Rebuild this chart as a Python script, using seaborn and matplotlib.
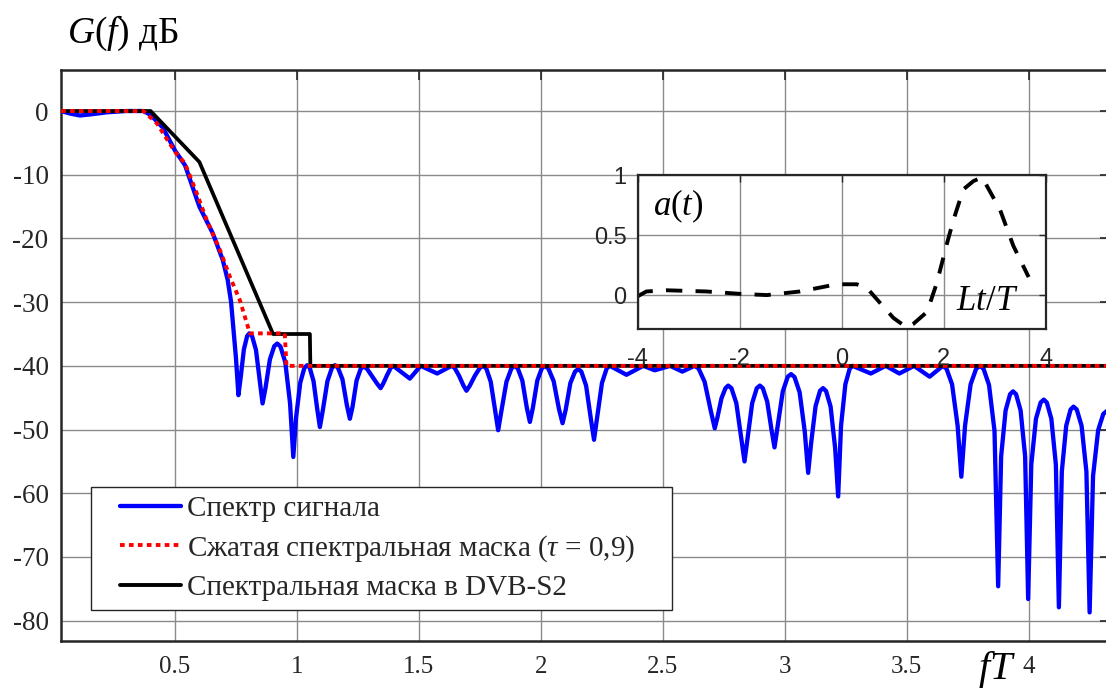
import matplotlib
matplotlib.use("Agg")
import matplotlib.pyplot as plt
from matplotlib.lines import Line2D
from matplotlib.legend_handler import HandlerLine2D
import seaborn as sns
import pandas as pd

# ---------------- data ----------------
spec_f = [
    0.033, 0.07, 0.11, 0.16, 0.22, 0.30, 0.37, 0.40, 0.45, 0.50, 0.541, 0.60, 0.655, 0.696, 0.716, 0.730, 0.739, 0.750,
    0.760, 0.769, 0.7825, 0.796,
    0.805, 0.8158, 0.832, 0.8482,
    0.859, 0.871, 0.889, 0.907,
    0.919, 0.9322, 0.952, 0.9718,
    0.985, 0.9964, 1.0135, 1.0306,
    1.042, 1.0524, 1.068, 1.0836,
    1.094, 1.1064, 1.125, 1.1436,
    1.156, 1.1682, 1.1865, 1.2048,
    1.217, 1.228, 1.2445, 1.261,
    1.272, 1.2862, 1.3075, 1.3288,
    1.343, 1.3534, 1.369, 1.3846,
    1.395, 1.429,
    1.463, 1.485,
    1.507, 1.541,
    1.575, 1.6045,
    1.634, 1.6462, 1.6645, 1.6828,
    1.695, 1.7088, 1.7295, 1.7502,
    1.764, 1.7762, 1.7945, 1.8128,
    1.825, 1.8386, 1.859, 1.8794,
    1.893, 1.9054, 1.924, 1.9426,
    1.955, 1.9672, 1.9855, 2.0038,
    2.016, 2.0306, 2.0525, 2.0744,
    2.089, 2.1018, 2.121, 2.1402,
    2.153, 2.166, 2.1855, 2.205,
    2.218, 2.231, 2.2505, 2.27,
    2.283, 2.317,
    2.351, 2.3855,
    2.42, 2.4435,
    2.467, 2.4985,
    2.53, 2.555,
    2.58, 2.605,
    2.63, 2.6466, 2.6715, 2.6964,
    2.713, 2.724, 2.7405, 2.757,
    2.768, 2.7814, 2.8015, 2.8216,
    2.835, 2.8476, 2.8665, 2.8854,
    2.898, 2.91, 2.928, 2.946,
    2.958, 2.9716, 2.992, 3.0124,
    3.026, 3.04, 3.061, 3.082,
    3.096, 3.1082, 3.1265, 3.1448,
    3.157, 3.1694, 3.188, 3.2066,
    3.219, 3.2308, 3.2485, 3.2662,
    3.278, 3.3155,
    3.353, 3.3835,
    3.414, 3.442,
    3.47, 3.50,
    3.53, 3.562,
    3.594, 3.621,
    3.648, 3.6632, 3.686, 3.7088,
    3.724, 3.7392, 3.762, 3.7848,
    3.80, 3.815, 3.8375, 3.86,
    3.875, 3.8872, 3.9055, 3.9238,
    3.936, 3.9484, 3.967, 3.9856,
    3.998, 4.0108, 4.03, 4.0492,
    4.062, 4.0744, 4.093, 4.1116,
    4.124, 4.136, 4.154, 4.172,
    4.184, 4.1972, 4.217, 4.2368,
    4.25, 4.264, 4.285, 4.306,
    4.32, 4.34,
]
spec_db = [
    0.0, -0.4, -0.7, -0.5, -0.2, 0.0, 0.0, -0.6, -2.6, -6.2, -8.5, -15.0, -19.2, -23.4, -26.5, -30.0, -33.9, -38.8,
    -44.6, -41.9, -37.4, -35.3,
    -34.9, -35.3, -37.5, -42.5,
    -45.9, -43.5, -39.0, -36.9,
    -36.5, -36.95, -39.4, -45.9,
    -54.3, -48.1, -42.65, -40.3,
    -39.9, -40.3, -42.4, -46.9,
    -49.6, -46.9, -42.4, -40.3,
    -39.9, -40.3, -42.1, -46.2,
    -48.3, -46.4, -42.3, -40.5,
    -40.1, -40.4, -41.6, -42.8,
    -43.5, -42.8, -41.5, -40.3,
    -40.0, -41.0,
    -42.0, -41.0,
    -40.0, -40.6,
    -41.2, -40.6,
    -40.0, -40.3, -41.55, -43.1,
    -43.9, -43.1, -41.55, -40.3,
    -40.0, -40.4, -42.5, -47.0,
    -50.1, -47.0, -42.5, -40.4,
    -40.0, -40.4, -42.3, -46.6,
    -48.8, -46.6, -42.3, -40.4,
    -40.0, -40.4, -42.4, -46.8,
    -49.0, -46.9, -42.7, -40.9,
    -40.5, -40.9, -43.1, -48.3,
    -51.6, -48.0, -42.7, -40.4,
    -40.0, -40.7,
    -41.4, -40.7,
    -40.0, -40.35,
    -40.7, -40.35,
    -40.0, -40.45,
    -40.9, -40.45,
    -40.0, -40.4, -42.5, -47.0,
    -49.8, -48.1, -45.1, -43.5,
    -43.1, -43.5, -45.85, -51.3,
    -55.0, -51.3, -45.85, -43.5,
    -43.1, -43.5, -45.6, -50.1,
    -52.8, -49.3, -44.0, -41.7,
    -41.3, -41.75, -44.15, -50.3,
    -56.8, -52.1, -46.3, -43.9,
    -43.5, -43.95, -46.4, -52.9,
    -60.5, -49.4, -42.9, -40.45,
    -40.0, -40.6,
    -41.2, -40.6,
    -40.0, -40.6,
    -41.2, -40.6,
    -40.0, -40.85,
    -41.7, -40.85,
    -40.0, -40.45, -42.9, -49.4,
    -57.4, -49.4, -42.9, -40.45,
    -40.0, -40.45, -43.0, -50.2,
    -74.6, -54.2, -47.0, -44.45,
    -44.0, -44.45, -47.0, -54.2,
    -76.6, -55.5, -48.3, -45.75,
    -45.3, -45.75, -48.3, -55.5,
    -77.9, -56.6, -49.4, -46.85,
    -46.4, -46.85, -49.4, -56.6,
    -78.7, -57.3, -50.1, -47.55,
    -47.1, -47.2,
]

comp_f = [0.033, 0.37, 0.425, 0.50, 0.541, 0.589, 0.630, 0.684, 0.725, 0.766, 0.807, 0.950, 0.957, 4.34]
comp_db = [0.0, 0.0, -1.9, -6.4, -8.2, -12.9, -17.1, -21.8, -26.0, -29.7, -34.9, -34.9, -40.0, -40.0]

dvb_f = [0.033, 0.40, 0.60, 0.902, 1.053, 1.055, 4.34]
dvb_db = [0.0, 0.0, -8.0, -35.0, -35.0, -40.0, -40.0]

at_t = [-4.0, -3.83, -3.44, -2.65, -1.99, -1.47, -0.82, -0.10, 0.29, 0.49, 0.82, 1.01,
        1.27, 1.40, 1.67, 1.86, 2.06, 2.19, 2.38, 2.58, 2.75, 3.10, 3.36, 3.66]
at_v = [-0.01, 0.03, 0.04, 0.03, 0.01, 0.00, 0.03, 0.09, 0.09, 0.06, -0.10, -0.19,
        -0.27, -0.24, -0.14, 0.10, 0.43, 0.63, 0.88, 0.95, 0.98, 0.71, 0.41, 0.15]

x_ticks = [0.5, 1, 1.5, 2, 2.5, 3, 3.5, 4]
x_labels = ["0.5", "1", "1.5", "2", "2.5", "3", "3.5", "4"]
y_ticks = [0, -10, -20, -30, -40, -50, -60, -70, -80]
y_labels = ["0", "-10", "-20", "-30", "-40", "-50", "-60", "-70", "-80"]

in_x_ticks = [-4, -2, 0, 2, 4]
in_x_labels = ["-4", "-2", "0", "2", "4"]
in_y_ticks = [0, 0.5, 1]
in_y_labels = ["0", "0.5", "1"]

legend_labels = ["Спектр сигнала",
                 "Сжатая спектральная маска ($\\tau$ = 0,9)",
                 "Спектральная маска в DVB-S2"]

# ---------------- style ----------------
sns.set_theme(style="white")
plt.rcParams["font.family"] = ["Liberation Serif", "DejaVu Serif"]
plt.rcParams["mathtext.fontset"] = "custom"
plt.rcParams["mathtext.rm"] = "Liberation Serif"
plt.rcParams["mathtext.it"] = "Liberation Serif:italic"
plt.rcParams["mathtext.bf"] = "Liberation Serif:bold"
plt.rcParams["axes.unicode_minus"] = False

W, H = 1106, 690
fig = plt.figure(figsize=(W / 100, H / 100), dpi=100)

# main axes
x_per_unit = 243.9
left_px, right_px = 61, 1110
ax = fig.add_axes([left_px / W, (H - 640.7) / H, (right_px - left_px) / W, (640.7 - 70) / H])
xmin = 0.0326
ax.set_xlim(xmin, xmin + (right_px - left_px) / x_per_unit)
ax.set_ylim(-83.14, 6.44)

grid_c = "#8a8a8a"
ax.grid(True, color=grid_c, linewidth=1.0)
ax.set_axisbelow(True)

df_spec = pd.DataFrame({"f": spec_f, "g": spec_db})
df_comp = pd.DataFrame({"f": comp_f, "g": comp_db})
df_dvb = pd.DataFrame({"f": dvb_f, "g": dvb_db})

red_dots = (0, (1.2, 1.1))
sns.lineplot(data=df_spec, x="f", y="g", ax=ax, sort=False, estimator=None,
             color="#0000ff", linewidth=3.1, zorder=3)
sns.lineplot(data=df_dvb, x="f", y="g", ax=ax, sort=False, estimator=None,
             color="black", linewidth=2.7, zorder=4)
sns.lineplot(data=df_comp, x="f", y="g", ax=ax, sort=False, estimator=None,
             color="#ff0000", linewidth=2.8, linestyle=red_dots, zorder=5)

ax.set_xticks(x_ticks)
ax.set_xticklabels(x_labels)
ax.set_yticks(y_ticks)
ax.set_yticklabels(y_labels)
ax.set_xlabel("")
ax.set_ylabel("")
ax.tick_params(axis="both", direction="in", length=7, width=1.2, colors="#262626",
               top=True, right=True)
ax.tick_params(axis="x", pad=11, labelsize=18)
ax.tick_params(axis="y", pad=9, labelsize=19.5)
for s in ax.spines.values():
    s.set_color("#262626")
    s.set_linewidth(1.8)

# legend
handles = [Line2D([], [], color="#0000ff", linewidth=3.1),
           Line2D([], [], color="#ff0000", linewidth=2.8, linestyle=red_dots),
           Line2D([], [], color="black", linewidth=2.8)]
leg = ax.legend(handles, legend_labels, loc="upper left",
                bbox_to_anchor=(91 / W, (H - 608) / H, (672 - 91) / W, (608 - 487) / H),
                bbox_transform=fig.transFigure, mode="expand", borderaxespad=0,
                fontsize=21, frameon=True, fancybox=False, framealpha=1,
                edgecolor="#262626", handlelength=2.8, handletextpad=0.2,
                labelspacing=0.37, borderpad=0.3,
                handler_map={Line2D: HandlerLine2D(xpad=0.7)})
leg.get_frame().set_linewidth(1.0)
leg.set_zorder(10)

# labels on the figure
fig.text(67 / W, 1 - 43 / H, "$G(f)$ дБ", fontsize=27, ha="left", va="baseline", color="black")
fig.text(978 / W, 1 - 679 / H, "$fT$", fontsize=29, ha="left", va="baseline", color="black")

# inset
ax_in = fig.add_axes([637.7 / W, (H - 328.7) / H, (1046 - 637.7) / W, (328.7 - 175) / H])
ax_in.set_facecolor("white")
ax_in.set_zorder(6)
ax_in.set_xlim(-4, 4)
ax_in.set_ylim(-0.28, 1.0)
ax_in.grid(True, color=grid_c, linewidth=1.0)
ax_in.set_axisbelow(True)
df_at = pd.DataFrame({"t": at_t, "a": at_v})
sns.lineplot(data=df_at, x="t", y="a", ax=ax_in, sort=False, estimator=None,
             color="black", linewidth=2.8, linestyle=(0, (4.2, 3.4)))
ax_in.set_xticks(in_x_ticks)
ax_in.set_xticklabels(in_x_labels, family=["Liberation Sans", "DejaVu Sans"])
ax_in.set_yticks(in_y_ticks)
ax_in.set_yticklabels(in_y_labels, family=["Liberation Sans", "DejaVu Sans"])
ax_in.set_xlabel("")
ax_in.set_ylabel("")
ax_in.tick_params(axis="both", direction="in", length=5, width=1.0, colors="#262626",
                  labelsize=17, top=True, right=True)
ax_in.tick_params(axis="x", pad=14)
ax_in.tick_params(axis="y", pad=8)
for s in ax_in.spines.values():
    s.set_color("#262626")
    s.set_linewidth(1.6)
ax_in.text(-3.2, 0.74, "$a(t)$", fontsize=25, ha="center", va="center", color="black")
ax_in.text(2.84, -0.05, "$Lt/T$", fontsize=25, ha="center", va="center", color="black")

fig.savefig("out.png", dpi=100)
